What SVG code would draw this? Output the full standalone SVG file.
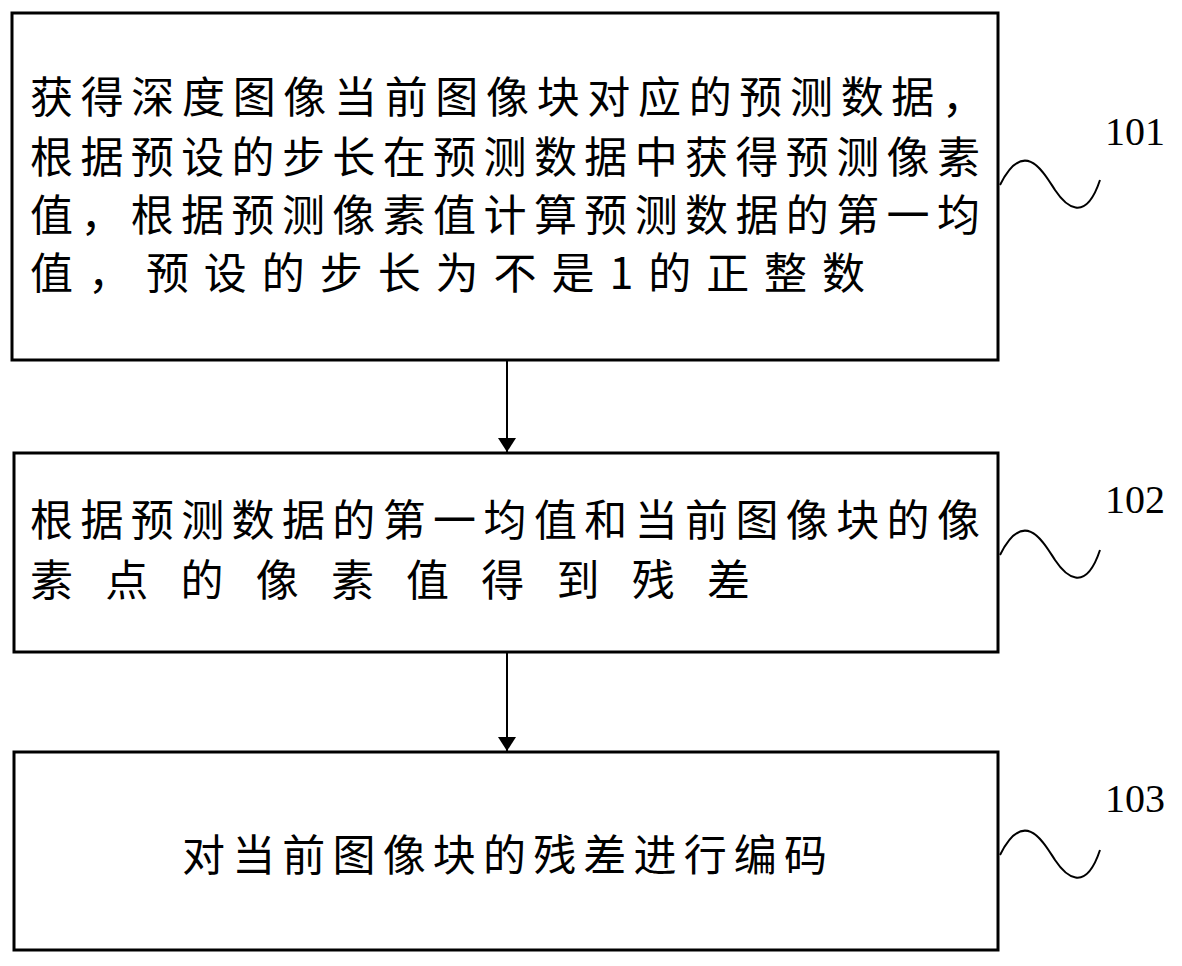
<svg xmlns="http://www.w3.org/2000/svg" width="1182" height="966" viewBox="0 0 1182 966">
<defs>
<style>
.box{fill:#fff;stroke:#000;stroke-width:3}
.t{font-family:"Noto Sans CJK SC",sans-serif;font-size:43px;fill:#000}
.n{font-family:"Liberation Serif",serif;font-size:40px;fill:#000}
.w{fill:none;stroke:#000;stroke-width:2}
</style>
<marker id="a" markerWidth="14" markerHeight="18" refX="14" refY="9" orient="auto" markerUnits="userSpaceOnUse"><path d="M0,0 L14,9 L0,18 Z" fill="#000"/></marker>
</defs>
<rect width="1182" height="966" fill="#fff"/>
<g id="n101">
<rect class="box" x="12" y="13" width="986" height="347"/>
<text class="t" x="30" y="113" textLength="955" lengthAdjust="spacing">获得深度图像当前图像块对应的预测数据，</text>
<text class="t" x="30" y="173" textLength="950" lengthAdjust="spacing">根据预设的步长在预测数据中获得预测像素</text>
<text class="t" x="30" y="231" textLength="950" lengthAdjust="spacing">值，根据预测像素值计算预测数据的第一均</text>
<text class="t" x="30" y="289" textLength="835" lengthAdjust="spacing">值，预设的步长为不是1的正整数</text>
<text class="n" x="1105" y="145">101</text>
<path class="w" d="M1000,185 C1025,135 1045,175 1055,190 C1065,205 1085,225 1100,180"/>
</g>
<g id="n102">
<rect class="box" x="14" y="453" width="984" height="199"/>
<text class="t" x="30" y="536" textLength="950" lengthAdjust="spacing">根据预测数据的第一均值和当前图像块的像</text>
<text class="t" x="30" y="596" textLength="720" lengthAdjust="spacing">素点的像素值得到残差</text>
<text class="n" x="1105" y="513">102</text>
<path class="w" d="M1000,555 C1025,505 1045,545 1055,560 C1065,575 1085,595 1100,550"/>
</g>
<g id="n103">
<rect class="box" x="14" y="752" width="984" height="198"/>
<text class="t" x="182" y="871" textLength="645" lengthAdjust="spacing">对当前图像块的残差进行编码</text>
<text class="n" x="1105" y="812">103</text>
<path class="w" d="M1000,855 C1025,805 1045,845 1055,860 C1065,875 1085,895 1100,850"/>
</g>
<g id="connectors" stroke="#000" stroke-width="2">
<line x1="507" y1="360" x2="507" y2="452" marker-end="url(#a)"/>
<line x1="507" y1="652" x2="507" y2="751" marker-end="url(#a)"/>
</g>
</svg>
